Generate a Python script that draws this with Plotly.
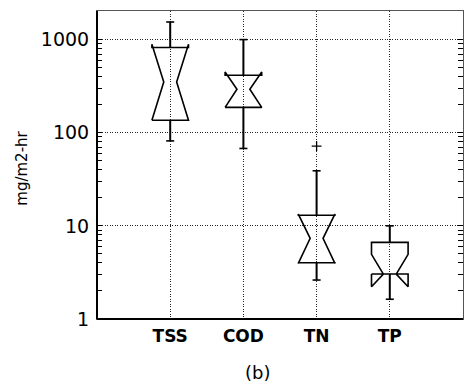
import plotly.graph_objects as go

# Summary statistics for each constituent (mg/m2-hr)
categories = ["TSS", "COD", "TN", "TP"]
positions = [1, 2, 3, 4]
lower_whisker = [81.7, 67.8, 2.62, 1.63]
q1 = [136, 187, 4.02, 3.04]
notch_low = [136, 187, 3.95, 2.22]
median = [351, 293, 7.34, 3.04]
notch_high = [891, 449, 13.4, 4.94]
q3 = [821, 414, 13.0, 6.65]
upper_whisker = [1545, 1000, 39.0, 10.0]
outlier_x = [3]
outlier_y = [71.8]

y_ticks = [1, 10, 100, 1000]
y_tick_text = ["1", "10", "100", "1000"]

BOX_HALF = 0.25
NOTCH_HALF = 0.088
CAP_HALF = 0.055

fig = go.Figure()

for i, x in enumerate(positions):
    # notched box outline (notch may flare past the quartiles)
    xs = [x - BOX_HALF, x - BOX_HALF, x - NOTCH_HALF, x - BOX_HALF, x - BOX_HALF,
          x + BOX_HALF, x + BOX_HALF, x + NOTCH_HALF, x + BOX_HALF, x + BOX_HALF,
          x - BOX_HALF]
    ys = [q1[i], notch_low[i], median[i], notch_high[i], q3[i],
          q3[i], notch_high[i], median[i], notch_low[i], q1[i],
          q1[i]]
    fig.add_trace(go.Scatter(x=xs, y=ys, mode="lines",
                             line=dict(color="black", width=1.6),
                             hoverinfo="skip", showlegend=False))
    # whiskers
    fig.add_trace(go.Scatter(x=[x, x, None, x, x],
                             y=[q3[i], upper_whisker[i], None, q1[i], lower_whisker[i]],
                             mode="lines", line=dict(color="black", width=2),
                             hoverinfo="skip", showlegend=False))
    # whisker caps
    fig.add_trace(go.Scatter(x=[x - CAP_HALF, x + CAP_HALF, None, x - CAP_HALF, x + CAP_HALF],
                             y=[upper_whisker[i], upper_whisker[i], None,
                                lower_whisker[i], lower_whisker[i]],
                             mode="lines", line=dict(color="black", width=1.6),
                             hoverinfo="skip", showlegend=False))

# outliers
fig.add_trace(go.Scatter(x=outlier_x, y=outlier_y, mode="markers",
                         marker=dict(symbol="cross-thin", size=7,
                                     line=dict(color="black", width=1.3)),
                         hoverinfo="skip", showlegend=False))

fig.update_layout(
    width=467, height=388,
    margin=dict(l=97, r=4, t=11, b=69),
    paper_bgcolor="white", plot_bgcolor="white",
    font=dict(family="DejaVu Sans", color="black"),
)

fig.update_xaxes(
    range=[0, 5],
    tickvals=positions, ticktext=categories,
    tickfont=dict(family="DejaVu Sans", size=17, color="black", weight="bold"),
    ticks="", ticklabelstandoff=2,
    showgrid=True, gridcolor="#222", gridwidth=1, griddash="1px,1.5px",
    showline=True, linecolor="#555", linewidth=1, mirror=True,
    zeroline=False,
)
fig.update_yaxes(
    type="log", range=[0, 3.307],
    tickvals=y_ticks, ticktext=y_tick_text,
    tickfont=dict(family="DejaVu Sans", size=19, color="black"),
    ticks="inside", ticklen=5, tickcolor="black", tickwidth=1,
    ticklabelstandoff=3,
    minor=dict(ticks="inside", ticklen=5, tickcolor="black", tickwidth=1,
               dtick="D1", showgrid=False),
    showgrid=True, gridcolor="#222", gridwidth=1, griddash="1px,1.5px",
    showline=True, linecolor="#555", linewidth=1, mirror="allticks",
    zeroline=False,
)

# heavier left and bottom axis lines
fig.add_shape(type="line", xref="paper", yref="paper", x0=0, x1=0, y0=0, y1=1,
              line=dict(color="black", width=2))
fig.add_shape(type="line", xref="paper", yref="paper", x0=0, x1=1, y0=0, y1=0,
              line=dict(color="black", width=2))

fig.add_annotation(text="mg/m2-hr", xref="paper", yref="paper",
                   x=-0.206, y=0.49, textangle=-90, showarrow=False,
                   font=dict(family="DejaVu Sans", size=15, color="black"),
                   xanchor="center", yanchor="middle")
fig.add_annotation(text="(b)", xref="paper", yref="paper",
                   x=0.439, y=-0.175, showarrow=False,
                   font=dict(family="DejaVu Sans", size=18, color="black"),
                   xanchor="center", yanchor="middle")

fig.write_html("out.html")
